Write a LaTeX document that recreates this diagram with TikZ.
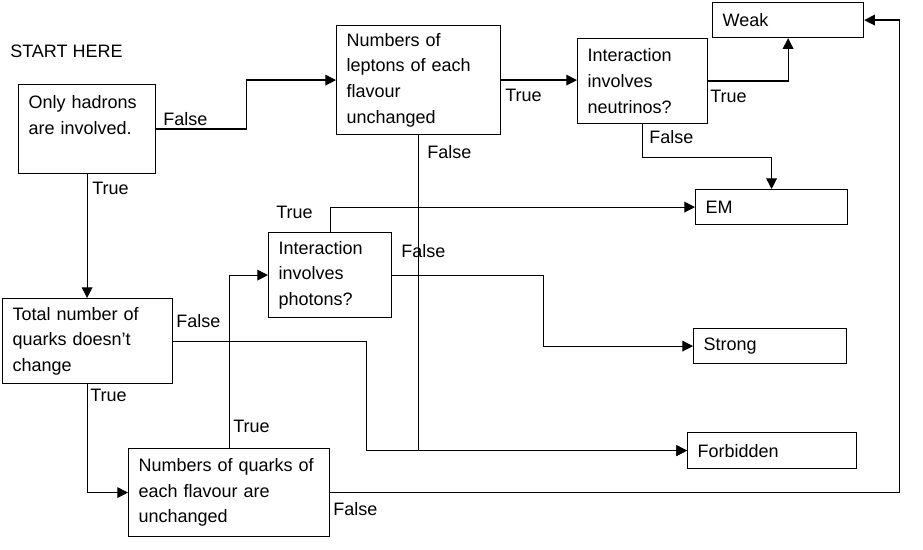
\documentclass[tikz,border=0pt]{standalone}
\usepackage{fontspec}
\setmainfont{Liberation Sans}
\usetikzlibrary{arrows.meta}

\begin{document}
\begin{tikzpicture}[x=0.75pt,y=-0.75pt,
    font=\fontsize{13.5}{19.3}\selectfont,
    box/.style={draw,line width=0.9pt,anchor=north west,align=left,
      inner xsep=7.5pt,inner ysep=0pt},
    tag/.style={anchor=west,inner sep=0pt}]
  \useasboundingbox (0,0) rectangle (923,549);
  \draw
    (10,51) node[tag] (start){START HERE}
    (18,84) node[box,text width=87.75pt,minimum height=66.75pt] (hadrons){Only hadrons\\are involved.\\[2pt]\mbox{}}
    (336,25) node[box,text width=108pt,minimum height=81.75pt] (leptons){Numbers of\\leptons of each\\flavour\\unchanged}
    (577,38) node[box,text width=82.5pt,minimum height=63.75pt] (neutrinos){Interaction\\involves\\neutrinos?}
    (712,2) node[box,text width=98.25pt,minimum height=26.25pt] (weak){Weak}
    (695,189) node[box,text width=99pt,minimum height=26.25pt] (em){EM}
    (693,328) node[box,text width=99.75pt,minimum height=26.25pt] (strong){Strong}
    (687,432) node[box,text width=111.75pt,minimum height=27pt] (forbidden){Forbidden}
    (268,232) node[box,text width=77.25pt,minimum height=63.75pt] (photons){Interaction\\involves\\photons?}
    (2,298) node[box,text width=112.5pt,minimum height=63.75pt] (tquarks){Total number of\\quarks doesn’t\\change}
    (128,448) node[box,text width=135.75pt,minimum height=66pt] (qflav){Numbers of quarks of\\each flavour are\\unchanged};
  % branch labels
  \draw
    (163,119) node[tag] (hadronsF){False}
    (92,188) node[tag] (hadronsT){True}
    (505,95) node[tag] (leptonsT){True}
    (427,152) node[tag] (leptonsF){False}
    (710,96) node[tag] (neutrinosT){True}
    (649,137) node[tag] (neutrinosF){False}
    (276,212) node[tag] (photonsT){True}
    (401,251) node[tag] (photonsF){False}
    (176,321) node[tag] (tquarksF){False}
    (90,395) node[tag] (tquarksT){True}
    (233,426) node[tag] (qflavT){True}
    (333,509) node[tag] (qflavF){False};
  \begin{scope}[line width=0.9pt,-{Triangle[length=8pt,width=8pt]}]
    \draw (hadrons.east) -- ++(90,0) |- (leptons.west);
    \draw (hadrons.south) -- (hadrons.south |- tquarks.north);
    \draw (leptons.east) -- (leptons.east -| neutrinos.west);
    \draw (leptons.south) |- (forbidden.west);
    \draw (neutrinos.east) -| (weak.south);
    \draw (neutrinos.south) -- ++(0,33) -| (em.north);
    \draw (photons.north) |- (em.west);
    \draw (photons.east) -- ++(151,0) |- (strong.west);
    \draw (tquarks.east) -- ++(193,0) |- (forbidden.west);
    \draw (tquarks.south) |- (qflav.west);
    \draw (qflav.north) |- (photons.west);
    \draw (qflav.east) -- ++(569,0) |- (weak.east);
  \end{scope}
\end{tikzpicture}
\end{document}
